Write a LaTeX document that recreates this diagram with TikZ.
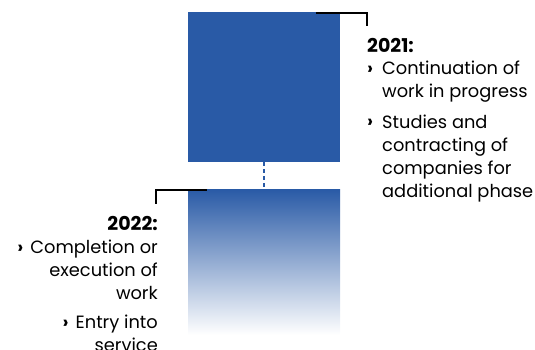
\documentclass[tikz,border=0pt]{standalone}
\usepackage{fontspec}
\setmainfont{Poppins}
\usetikzlibrary{positioning}
\definecolor{BoxBlue}{RGB}{41,90,166}

\begin{document}
\begin{tikzpicture}[
  x=1pt, y=-1pt,
  bracket/.style={line width=2pt, black, line cap=butt},
  link/.style={line width=2pt, BoxBlue, dash pattern=on 4pt off 3pt},
  block/.style={minimum width=152pt, inner sep=0pt, draw=none},
  yearlabel/.style={font=\bfseries\fontsize{19}{20}\selectfont, inner sep=0pt},
  itemlabel/.style={font=\fontsize{17.8}{23}\selectfont, inner sep=0pt},
  every node/.style={text=black}
]
  \useasboundingbox (0,0) rectangle (535,350);

  % Blocks
  \node[block, minimum height=150pt, fill=BoxBlue] (box21) at (264,87) {};
  \node[block, minimum height=146pt, top color=BoxBlue, bottom color=white] (box22) at (264,262) {};
  \draw[link] (box21.south) -- (box22.north);

  % 2021 (multi-line nodes sit on their last baseline)
  \coordinate (tick21) at (367,26);
  \draw[bracket] ([xshift=-24pt,yshift=-1pt]box21.north east) -| (tick21);
  \node[yearlabel, anchor=base west] (year21) at (367,53) {2021:};
  \node[itemlabel, anchor=base west] (dot21a) at (367,75) {\textbf{›}};
  \node[itemlabel, anchor=base west, align=left] (item21a) at (382,98) {Continuation of\\work in progress};
  \node[itemlabel, anchor=base west] (dot21b) at (367,128) {\textbf{›}};
  \node[itemlabel, anchor=base west, align=left] (item21b) at (382,197) {Studies and\\contracting of\\companies for\\additional phase};

  % 2022
  \coordinate (tick22) at (156,204);
  \draw[bracket] ([xshift=19pt,yshift=-1pt]box22.north west) -| (tick22);
  \node[yearlabel, anchor=base east] (year22) at (158,230) {2022:};
  \node[itemlabel, anchor=base east, align=right] (item22a) at (158,299) {\textbf{›}\hspace{7pt}Completion or\\execution of\\work};
  \node[itemlabel, anchor=base east, align=right] (item22b) at (158,351) {\textbf{›}\hspace{7pt}Entry into\\service};
\end{tikzpicture}
\end{document}
